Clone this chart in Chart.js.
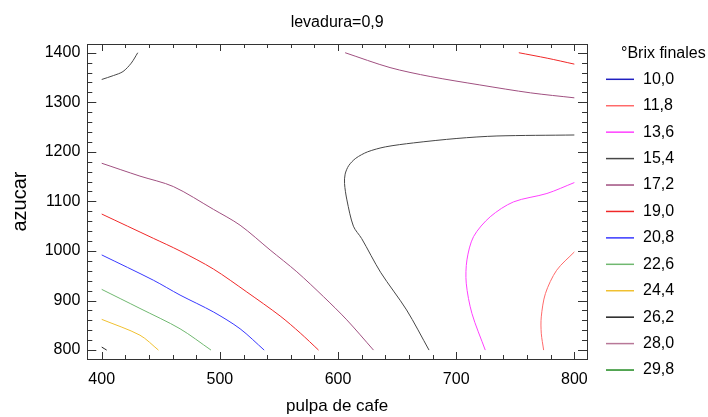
<!DOCTYPE html>
<html>
<head>
<meta charset="utf-8">
<script src="https://cdn.jsdelivr.net/npm/chart.js@4.4.0/dist/chart.umd.min.js"></script>
<style>
  html, body { margin: 0; padding: 0; background: #fff; }
</style>
</head>
<body>
<canvas id="chart" width="708" height="417"></canvas>
<script>
// °Brix finales levels shown in the legend
const levelLabels = ['10,0', '11,8', '13,6', '15,4', '17,2', '19,0', '20,8', '22,6', '24,4', '26,2', '28,0', '29,8'];
const levelColors = ['#2020c0', '#ff6a6a', '#ff40ff', '#474747', '#a05080', '#f02828', '#3838ff', '#70b870', '#f0c030', '#202020', '#b87898', '#208a20'];

// axis ticks
const xTicks = [400, 500, 600, 700, 800];
const yTicks = [800, 900, 1000, 1100, 1200, 1300, 1400];

// contour segments: x = pulpa de cafe, y = azucar
const c154TopX = [400, 410, 418, 425, 430.5];
const c154TopY = [1346, 1354, 1362, 1379, 1400];

const c172TopX = [606, 644, 678, 720, 763, 800];
const c172TopY = [1400, 1370, 1352, 1335, 1319, 1309];

const c190TopX = [753, 777, 800];
const c190TopY = [1400, 1389, 1377];

const c154MidX = [800, 734.5, 700.6, 663.8, 640, 625, 615, 609, 606, 605.5, 607.5, 613, 620, 636, 658, 677];
const c154MidY = [1234, 1232, 1227, 1218, 1210, 1200, 1187, 1172, 1155, 1136, 1103, 1050, 1025, 957, 881, 800];

const c136X = [800, 776.8, 748.5, 728.8, 714.7, 709.1, 708.5, 713.3, 724.6];
const c136Y = [1138, 1116, 1099, 1069, 1029, 982, 935, 874, 800];

const c118X = [800, 785, 775.5, 772, 772, 774];
const c118Y = [998, 961, 914, 867, 834, 800];

const c172LowX = [400, 432.4, 460.6, 494.5, 517.1, 542.5, 565.1, 587.6, 607.4, 630];
const c172LowY = [1177, 1151, 1130, 1084, 1052, 1002, 958, 908, 861, 800];

const c190LowX = [400, 443.7, 466.3, 494.5, 522.8, 551, 568, 583.5];
const c190LowY = [1074.5, 1025.5, 1000, 963.6, 917.2, 868.8, 834.5, 800];

const c208X = [400, 443.7, 466.3, 494.5, 517.1, 537.5];
const c208Y = [992, 941, 911, 877, 843, 800];

const c226X = [400, 432.4, 466.3, 492.5];
const c226Y = [922.5, 884, 843, 800];

const c244X = [400, 432.4, 448];
const c244Y = [862, 830, 800];

const c262X = [400, 404.2];
const c262Y = [806, 800];

// [level index, xs, ys]
const segments = [
  [3, c154TopX, c154TopY],
  [4, c172TopX, c172TopY],
  [5, c190TopX, c190TopY],
  [3, c154MidX, c154MidY],
  [2, c136X, c136Y],
  [1, c118X, c118Y],
  [4, c172LowX, c172LowY],
  [5, c190LowX, c190LowY],
  [6, c208X, c208Y],
  [7, c226X, c226Y],
  [8, c244X, c244Y],
  [9, c262X, c262Y]
];

const FONT = '"Liberation Sans", Arial, sans-serif';

const datasets = segments.map(([lvl, xs, ys]) => ({
  label: levelLabels[lvl],
  data: xs.map((x, i) => ({ x: x, y: ys[i] })),
  borderColor: levelColors[lvl],
  borderWidth: 1,
  pointRadius: 0,
  fill: false,
  tension: 0.3
}));

// frame, inward tick marks, title and legend
const framePlugin = {
  id: 'frame',
  afterDraw(chart) {
    const ctx = chart.ctx;
    const a = chart.chartArea;
    const xs = chart.scales.x, ys = chart.scales.y;
    ctx.save();
    ctx.strokeStyle = '#333';
    ctx.lineWidth = 1;
    ctx.strokeRect(Math.round(a.left) + 0.5, Math.round(a.top) + 0.5,
      Math.round(a.right - a.left), Math.round(a.bottom - a.top));

    ctx.beginPath();
    for (let v = 400; v <= 800; v += 20) {
      const px = Math.round(xs.getPixelForValue(v)) + 0.5;
      const len = v % 100 === 0 ? 7 : 4;
      ctx.moveTo(px, a.bottom); ctx.lineTo(px, a.bottom - len);
      ctx.moveTo(px, a.top); ctx.lineTo(px, a.top + len);
    }
    for (let v = 800; v <= 1400; v += 20) {
      const py = Math.round(ys.getPixelForValue(v)) + 0.5;
      const len = v % 100 === 0 ? 9 : 5;
      ctx.moveTo(a.left, py); ctx.lineTo(a.left + len, py);
      ctx.moveTo(a.right, py); ctx.lineTo(a.right - len, py);
    }
    ctx.stroke();

    ctx.fillStyle = '#000';
    ctx.font = '16px ' + FONT;
    ctx.textAlign = 'center';
    ctx.textBaseline = 'middle';
    ctx.fillText('levadura=0,9', (a.left + a.right) / 2, 23);

    // legend
    ctx.textAlign = 'left';
    ctx.textBaseline = 'alphabetic';
    ctx.fillText('°Brix finales', 621, 57.5);
    ctx.textBaseline = 'middle';
    levelLabels.forEach((lab, i) => {
      const y = 79.3 + i * 26.43;
      ctx.strokeStyle = levelColors[i];
      ctx.lineWidth = 1.5;
      ctx.beginPath();
      ctx.moveTo(606, y); ctx.lineTo(634, y);
      ctx.stroke();
      ctx.fillText(lab, 643, y);
    });
    ctx.restore();
  }
};

const tickFont = { family: FONT, size: 16 };

new Chart(document.getElementById('chart'), {
  type: 'line',
  data: { datasets: datasets },
  options: {
    responsive: false,
    animation: false,
    layout: { padding: { top: 44, right: 121, bottom: 0, left: 0 } },
    plugins: {
      legend: { display: false },
      title: { display: false },
      tooltip: { enabled: false }
    },
    scales: {
      x: {
        type: 'linear',
        min: 387.8,
        max: 810.7,
        afterBuildTicks: s => { s.ticks = xTicks.map(v => ({ value: v })); },
        afterFit: s => { s.height = 58; },
        grid: { display: false, drawTicks: false },
        border: { display: false },
        ticks: { color: '#000', font: tickFont, padding: 11, maxRotation: 0, autoSkip: false, callback: v => String(v) },
        title: { display: true, text: 'pulpa de cafe', color: '#000', font: { family: FONT, size: 17 }, padding: { top: 0, bottom: 0 } }
      },
      y: {
        type: 'linear',
        min: 782,
        max: 1417.6,
        afterBuildTicks: s => { s.ticks = yTicks.map(v => ({ value: v })); },
        afterFit: s => { s.width = 87.3; },
        grid: { display: false, drawTicks: false },
        border: { display: false },
        ticks: { color: '#000', font: tickFont, padding: 7, autoSkip: false, callback: v => String(v) },
        title: { display: true, text: 'azucar', color: '#000', font: { family: FONT, size: 20 }, padding: { top: 8, bottom: 0 } }
      }
    }
  },
  plugins: [framePlugin]
});
</script>
</body>
</html>
